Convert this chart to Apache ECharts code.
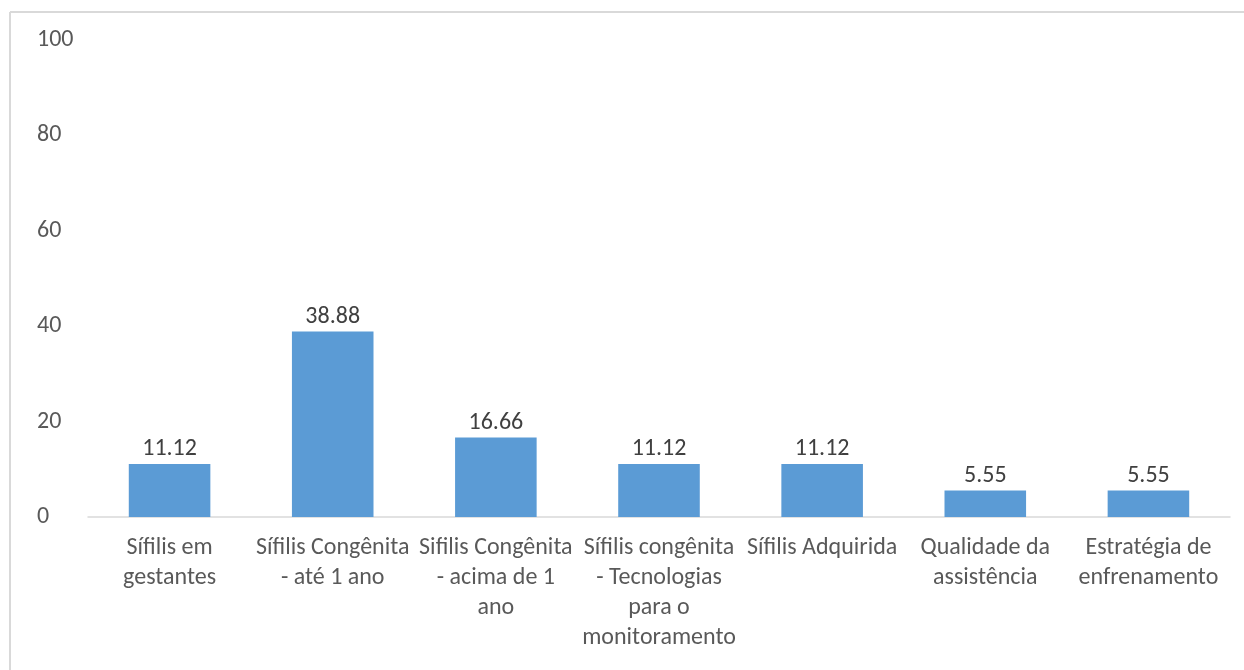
<!DOCTYPE html>
<html>
<head>
<meta charset="utf-8">
<script src="https://cdn.jsdelivr.net/npm/echarts@6/dist/echarts.min.js"></script>
<style>
html,body{margin:0;padding:0;background:#fff;}
#chart{width:1244px;height:670px;}
</style>
</head>
<body>
<div id="chart"></div>
<script>
const categories = [
  "Sífilis em\ngestantes",
  "Sífilis Congênita\n- até 1 ano",
  "Sifilis Congênita\n- acima de 1\nano",
  "Sífilis congênita\n- Tecnologias\npara o\nmonitoramento",
  "Sífilis Adquirida",
  "Qualidade da\nassistência",
  "Estratégia de\nenfrenamento"
];
const values = [11.12, 38.88, 16.66, 11.12, 11.12, 5.55, 5.55];
const valueLabels = ["11.12", "38.88", "16.66", "11.12", "11.12", "5.55", "5.55"];
const yTicks = [0, 20, 40, 60, 80, 100];

const FONT = "Carlito, 'Open Sans', sans-serif";
const chart = echarts.init(document.getElementById('chart'), null, {renderer: 'canvas'});
chart.setOption({
  animation: false,
  backgroundColor: '#ffffff',
  graphic: [
    {type: 'line', shape: {x1: 10, y1: 12, x2: 1244, y2: 12}, style: {stroke: '#d9d9d9', lineWidth: 2}},
    {type: 'line', shape: {x1: 10, y1: 12, x2: 10, y2: 670}, style: {stroke: '#d9d9d9', lineWidth: 2}}
  ],
  grid: {left: 88, right: 14, top: 40, bottom: 153, containLabel: false},
  xAxis: {
    type: 'category',
    data: categories,
    axisTick: {show: false},
    axisLine: {lineStyle: {color: '#d9d9d9', width: 1.5}},
    axisLabel: {
      interval: 0,
      color: '#595959',
      fontFamily: FONT,
      fontSize: 24,
      lineHeight: 30,
      margin: 16
    }
  },
  yAxis: {
    type: 'value',
    min: yTicks[0],
    max: yTicks[yTicks.length - 1],
    interval: 20,
    splitLine: {show: false},
    axisLine: {show: false},
    axisTick: {show: false},
    axisLabel: {
      color: '#595959',
      fontFamily: FONT,
      fontSize: 24,
      align: 'left',
      margin: 51
    }
  },
  series: [{
    type: 'bar',
    data: values,
    barWidth: '50%',
    itemStyle: {color: '#5b9bd5'},
    label: {
      show: true,
      position: 'top',
      distance: 3,
      color: '#404040',
      fontFamily: FONT,
      fontSize: 24,
      formatter: p => valueLabels[p.dataIndex]
    }
  }]
});
</script>
</body>
</html>
